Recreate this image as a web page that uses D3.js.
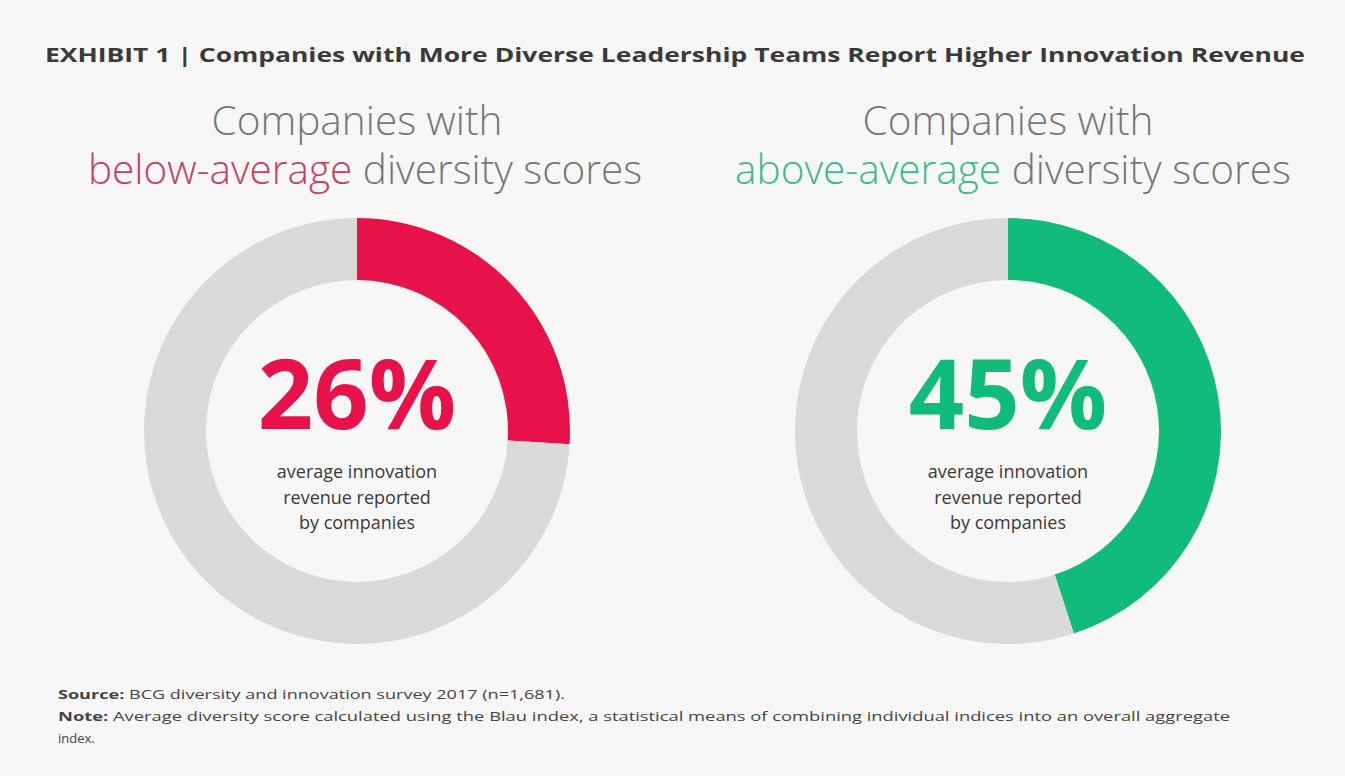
<!DOCTYPE html>
<html>
<head>
<meta charset="utf-8">
<script src="https://cdn.jsdelivr.net/npm/d3@7"></script>
<style>
  html, body { margin: 0; padding: 0; background: #f7f7f7; }
  svg { display: block; }
  text { font-family: "Open Sans", "Noto Sans", sans-serif; }
</style>
</head>
<body>
<svg id="chart" width="1345" height="776"></svg>
<script>
const title = "EXHIBIT 1 | Companies with More Diverse Leadership Teams Report Higher Innovation Revenue";
const groups = ["below-average", "above-average"];
const values = [26, 45];
const seriesColors = ["#e8124b", "#11bb7c"];
const labelColors = ["#c8405f", "#3cb98e"];
const descLines = ["average innovation", "revenue reported", "by companies"];
const sourceText = "BCG diversity and innovation survey 2017 (n=1,681).";
const noteText = "Average diversity score calculated using the Blau index, a statistical means of combining individual indices into an overall aggregate";
const noteText2 = "index.";

const svg = d3.select("#chart");
const W = 1345;

svg.append("rect").attr("width", W).attr("height", 776).attr("fill", "#f7f7f7");

// Title
svg.append("text")
  .attr("x", 45).attr("y", 62)
  .attr("font-size", 20).attr("font-weight", 700)
  .attr("fill", "#3a3a3a")
  .attr("textLength", 1260).attr("lengthAdjust", "spacingAndGlyphs")
  .text(title);

const x = d3.scalePoint().domain(groups).range([357, 1008]);
const cy = 431;
const outerR = 213, innerR = 151;

const pie = d3.pie().sort(null).value(d => d);
const arc = d3.arc().innerRadius(innerR).outerRadius(outerR);

groups.forEach((g, i) => {
  const cx = x(g);
  const panel = svg.append("g");

  // Subtitle
  panel.append("text")
    .attr("x", cx).attr("y", 135)
    .attr("text-anchor", "middle")
    .attr("font-size", 40.5).attr("font-weight", 300)
    .attr("fill", "#777")
    .text("Companies with");
  const t2 = panel.append("text")
    .attr("x", cx + (i === 0 ? 8 : 5)).attr("y", 184)
    .attr("text-anchor", "middle")
    .attr("font-size", 40.5).attr("font-weight", 300)
    .attr("fill", "#777");
  t2.append("tspan").attr("fill", labelColors[i]).text(g);
  t2.append("tspan").text(" diversity scores");

  // Donut
  const dg = panel.append("g").attr("transform", `translate(${cx},${cy})`);
  const arcs = pie([values[i], 100 - values[i]]);
  dg.selectAll("path").data(arcs).join("path")
    .attr("d", arc)
    .attr("fill", (d, j) => j === 0 ? seriesColors[i] : "#dadada");

  // Big number
  panel.append("text")
    .attr("x", cx).attr("y", 429)
    .attr("text-anchor", "middle")
    .attr("font-size", 97).attr("font-weight", 700)
    .attr("fill", seriesColors[i])
    .text(values[i] + "%");

  descLines.forEach((line, k) => {
    panel.append("text")
      .attr("x", cx).attr("y", 478 + k * 25.5)
      .attr("text-anchor", "middle")
      .attr("font-size", 18)
      .attr("fill", "#3a3a3a")
      .text(line);
  });
});

// Footer
const s = svg.append("text").attr("x", 58).attr("y", 699).attr("font-size", 13).attr("fill", "#444")
  .attr("textLength", 507).attr("lengthAdjust", "spacingAndGlyphs");
s.append("tspan").attr("font-weight", 700).text("Source: ");
s.append("tspan").text(sourceText);
const n = svg.append("text").attr("x", 58).attr("y", 721).attr("font-size", 13).attr("fill", "#444")
  .attr("textLength", 1172).attr("lengthAdjust", "spacingAndGlyphs");
n.append("tspan").attr("font-weight", 700).text("Note: ");
n.append("tspan").text(noteText);
svg.append("text").attr("x", 58).attr("y", 743).attr("font-size", 13).attr("fill", "#444").text(noteText2);
</script>
</body>
</html>
